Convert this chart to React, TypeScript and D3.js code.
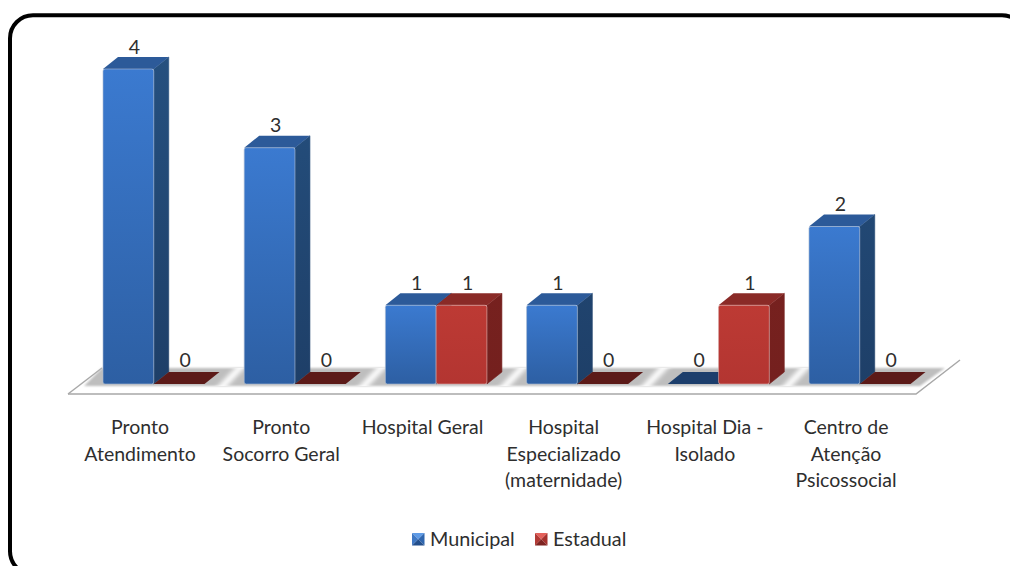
import React from "react";
import * as d3 from "d3";

const categories = [
  ["Pronto", "Atendimento"],
  ["Pronto", "Socorro Geral"],
  ["Hospital Geral"],
  ["Hospital", "Especializado", "(maternidade)"],
  ["Hospital Dia -", "Isolado"],
  ["Centro de", "Atenção", "Psicossocial"],
];
const seriesNames = ["Municipal", "Estadual"];
const municipal = [4, 3, 1, 1, 0, 2];
const estadual = [0, 0, 1, 0, 1, 0];

const seriesValues = [municipal, estadual];
const FONT = "Lato, 'Open Sans', sans-serif";

const x = d3.scaleBand<number>().domain(d3.range(categories.length)).range([103, 910.5]).paddingInner(0.281).paddingOuter(0);
const y = d3.scaleLinear().domain([0, 4]).range([384, 69]);
const DX = 15;
const DY = 12;

const palettes = [
  { top: "#2c5a99", side: ["#25507f", "#1e3f68"], front: ["#3b7ad0", "#2d5fa3"], flat: "#1c3e6c", id: "b", edge: "#a9bad2" },
  { top: "#8a2a27", side: ["#7c2320", "#74201e"], front: ["#bd3a34", "#b33531"], flat: "#5c1a18", id: "r", edge: "#d8a8a6" },
];

function Bar({ i, s, v }: { i: number; s: number; v: number }) {
  const w = x.bandwidth() / 2;
  const x0 = x(i)! + s * w;
  const y0 = y(0);
  const y1 = y(v);
  const p = palettes[s];
  if (v === 0) {
    return <path d={`M${x0},${y0}L${x0 + w},${y0}L${x0 + w + DX},${y0 - DY}L${x0 + DX},${y0 - DY}Z`} fill={p.flat} />;
  }
  return (
    <g>
      <path d={`M${x0 + w},${y1}L${x0 + w + DX},${y1 - DY}L${x0 + w + DX},${y0 - DY}L${x0 + w},${y0}Z`} fill={`url(#side-${p.id})`} stroke={`url(#side-${p.id})`} strokeWidth={0.6} />
      <path d={`M${x0},${y1}L${x0 + DX},${y1 - DY}L${x0 + w + DX},${y1 - DY}L${x0 + w},${y1}Z`} fill={p.top} />
      <rect x={x0} y={y1} width={w} height={y0 - y1} fill={`url(#front-${p.id})`} stroke={p.edge} strokeOpacity={0.7} strokeWidth={0.9} rx={2} />
    </g>
  );
}

function Swatch({ px, s }: { px: number; s: number }) {
  const c = s === 0 ? ["#5f9be6", "#3f78c4", "#2f66ae", "#234f8c"] : ["#e4605a", "#b23a35", "#a5302c", "#7e2421"];
  const t = 533;
  const z = 12.5;
  const mx = px + z / 2;
  const my = t + z / 2;
  return (
    <g>
      <path d={`M${px},${t}L${px + z},${t}L${mx},${my}Z`} fill={c[0]} />
      <path d={`M${px},${t}L${mx},${my}L${px},${t + z}Z`} fill={c[1]} />
      <path d={`M${px + z},${t}L${mx},${my}L${px + z},${t + z}Z`} fill={c[2]} />
      <path d={`M${px},${t + z}L${mx},${my}L${px + z},${t + z}Z`} fill={c[3]} />
    </g>
  );
}

export default function App() {
  const floorY = y(0);
  return (
    <svg width={1010} height={566} style={{ position: "absolute", left: 0, top: 0, background: "#fff" }}>
      <defs>
        {palettes.map((p) => (
          <React.Fragment key={p.id}>
            <linearGradient id={`front-${p.id}`} x1="0" y1="0" x2="0" y2="1">
              <stop offset="0" stopColor={p.front[0]} />
              <stop offset="1" stopColor={p.front[1]} />
            </linearGradient>
            <linearGradient id={`side-${p.id}`} gradientUnits="userSpaceOnUse" x1="0" y1="57" x2="0" y2="384">
              <stop offset="0" stopColor={p.side[0]} />
              <stop offset="1" stopColor={p.side[1]} />
            </linearGradient>
          </React.Fragment>
        ))}
        <filter id="soft" x="-80%" y="-20%" width="260%" height="140%">
          <feGaussianBlur stdDeviation="3 0.5" />
        </filter>
        <filter id="edge" x="-5%" y="-50%" width="110%" height="200%">
          <feGaussianBlur stdDeviation="0.9" />
        </filter>
        <clipPath id="floorClip">
          <path d={`M84,${floorY + 2}L102,368L945,368L920,${floorY + 2}Z`} />
        </clipPath>
      </defs>

      <rect x={10} y={15.3} width={1015} height={559} rx={23} fill="#fff" stroke="#000" strokeWidth={4} />

      {/* floor */}
      <path d="M68,394L916,394L960,360" fill="none" stroke="#a8a8a8" strokeWidth={1.5} />
      <path d="M68,394L102,368" fill="none" stroke="#a8a8a8" strokeWidth={1.5} />
      <path d={`M84,${floorY + 2}L102,368L945,368L920,${floorY + 2}Z`} fill="#bebebe" filter="url(#edge)" />
      <g clipPath="url(#floorClip)">
        {d3.range(1, categories.length).map((i) => {
          const nx = x(i)!;
          return (
            <path
              key={i}
              d={`M${nx - 27},${floorY + 3}L${nx - 18},${floorY + 3}L${nx + 2},366L${nx - 7},366Z`}
              fill="#fff"
              filter="url(#soft)"
            />
          );
        })}
      </g>

      {categories.map((_, i) =>
        seriesValues.map((vals, s) => <Bar key={`${i}-${s}`} i={i} s={s} v={vals[i]} />)
      )}

      {/* value labels */}
      {categories.map((_, i) =>
        seriesValues.map((vals, s) => (
          <text
            key={`l${i}-${s}`}
            x={x(i)! + (s + 0.5) * (x.bandwidth() / 2) + 6}
            y={y(vals[i]) - DY - (vals[i] === 0 ? 5 : 3.5)}
            textAnchor="middle"
            fontFamily={FONT}
            fontSize={19.5}
            fill="#2e2e2e"
          >
            {vals[i]}
          </text>
        ))
      )}

      {/* category labels */}
      {categories.map((lines, i) => (
        <text key={`c${i}`} textAnchor="middle" fontFamily={FONT} fontSize={19.5} fill="#2e2e2e">
          {lines.map((t, j) => (
            <tspan key={j} x={x(i)! + x.bandwidth() / 2 - 13.7} y={434 + j * 26.5}>
              {t}
            </tspan>
          ))}
        </text>
      ))}

      {/* legend */}
      <Swatch px={412} s={0} />
      <text x={430} y={546} fontFamily={FONT} fontSize={19.8} fill="#2e2e2e">{seriesNames[0]}</text>
      <Swatch px={535} s={1} />
      <text x={553} y={546} fontFamily={FONT} fontSize={19.8} fill="#2e2e2e">{seriesNames[1]}</text>
    </svg>
  );
}
